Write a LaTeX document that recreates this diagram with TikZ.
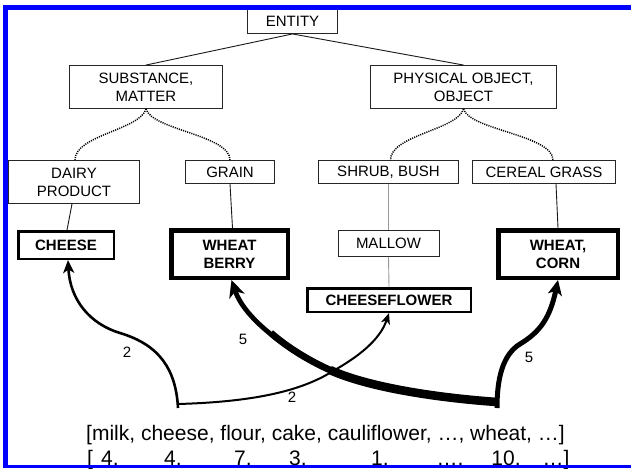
\documentclass[tikz,border=0pt]{standalone}
\usepackage{fontspec}
\setmainfont{Liberation Sans}
\usetikzlibrary{arrows.meta}
\begin{document}
\begin{tikzpicture}[x=1pt,y=-1pt,
  lbl/.style={font=\fontsize{15}{18}\selectfont, align=center, inner sep=0pt},
  thinbox/.style={lbl, draw=black!85, line width=0.9pt, fill=white},
  midbox/.style={lbl, draw=black, line width=2.5pt, fill=white, font=\fontsize{15}{18}\selectfont\bfseries},
  heavybox/.style={midbox, line width=4.5pt},
  tree/.style={line width=0.9pt, draw=black!90},
  grayline/.style={line width=0.9pt, draw=black!40},
  dots/.style={line width=1.5pt, dash pattern=on 1.1pt off 1.1pt},
  num/.style={font=\fontsize{15}{15}\selectfont, inner sep=0pt},
  words/.style={font=\fontsize{21}{21}\selectfont, inner sep=0pt, anchor=base},
  frame/.style={fill={rgb,255:red,0;green,0;blue,255}, draw=none}
]
\useasboundingbox (0,0) rectangle (631,468);
\fill[white] (0,0) rectangle (631,468);

% tree nodes
\node[thinbox, minimum width=90pt, minimum height=25pt] (entity) at (292.5,21) {ENTITY};
\node[thinbox, minimum width=153pt, minimum height=43pt] (subst) at (146,87) {SUBSTANCE,\\MATTER};
\node[thinbox, minimum width=186pt, minimum height=43pt] (phys) at (463.5,87) {PHYSICAL OBJECT,\\OBJECT};
\node[thinbox, minimum width=131pt, minimum height=43pt] (dairy) at (74,182) {DAIRY\\PRODUCT};
\node[thinbox, minimum width=89pt, minimum height=23pt] (grain) at (230,172) {GRAIN};
\node[thinbox, minimum width=140pt, minimum height=23pt] (shrub) at (388.5,172) {SHRUB, BUSH};
\node[thinbox, minimum width=143pt, minimum height=23pt] (cereal) at (544,172) {CEREAL GRASS};
\node[thinbox, minimum width=101pt, minimum height=26pt] (mallow) at (388.5,243.5) {MALLOW};
\node[midbox, minimum width=95.5pt, minimum height=27.5pt] (cheese) at (66,245) {CHEESE};
\node[heavybox, minimum width=116.5pt, minimum height=47.5pt] (wb) at (229.5,254) {WHEAT\\BERRY};
\node[heavybox, minimum width=119.5pt, minimum height=47.5pt] (wc) at (558,254) {WHEAT,\\CORN};
\node[midbox, minimum width=163.5pt, minimum height=23.5pt] (cf) at (389,300) {CHEESEFLOWER};

% tree edges
\draw[tree] (entity.south) -- (subst.north);
\draw[tree] (entity.south) -- (phys.north);
\draw[dots] (subst.south) .. controls +(-6,21) and +(0,-25) .. ([xshift=1pt]dairy.north);
\draw[dots] (subst.south) .. controls +(6,21) and +(0,-25) .. (grain.north);
\draw[dots] (phys.south) .. controls +(-6,21) and +(0,-25) .. ([xshift=2pt]shrub.north);
\draw[dots] (phys.south) .. controls +(6,21) and +(0,-25) .. ([xshift=9pt]cereal.north);
\draw[tree] ([xshift=-2pt]dairy.south) -- ([xshift=1pt]cheese.north);
\draw[tree] (grain.south) -- ([xshift=3pt]wb.north);
\draw[tree] ([xshift=12pt]cereal.south) -- (wc.north);
\draw[grayline] (shrub.south) -- (mallow.north);
\draw[grayline] (mallow.south) -- (cf.north);

% junctions
\coordinate (L) at (178,404);
\coordinate (Lb) at (178,408);
\coordinate (R) at (497,402);
\coordinate (Rb) at (497,408);
\coordinate (X) at (333,371);
\coordinate (Y) at (330,370);
\coordinate (Yh) at (270.8,332.9);
\coordinate (Q) at (520,344);

% weighted arrows
\draw[line width=2.6pt, -{Stealth[length=13pt,width=11pt,inset=3.5pt]}]
  (Lb) .. controls (176,370) and (160,345) .. (120,333)
       .. controls (90,324) and (70,300) .. ([xshift=2pt]cheese.south);
\draw[line width=2pt, -{Stealth[length=11pt,width=9pt,inset=3pt]}]
  (L) .. controls (250,402) and (300,392) .. (X)
      .. controls (358,357) and (380,340) .. (cf.south);
% tapered heavy arrow to WHEAT BERRY
\draw[line width=4.8pt, -{Stealth[length=17pt,width=16pt,inset=5pt]}]
  (R) .. controls (440,398) and (370,388) .. (Y)
      .. controls (290,352) and (245,320) .. ([xshift=2pt]wb.south);
\draw[line width=6.8pt]
  (R) .. controls (440,398) and (370,388) .. (Y)
      .. controls (310,361) and (288.75,348.5) .. (Yh);
\draw[line width=8.6pt]
  (R) .. controls (440,398) and (370,388) .. (Y);
\draw[line width=5pt, -{Stealth[length=15pt,width=14pt,inset=4pt]}]
  (Rb) .. controls (497,380) and (502,355) .. (Q)
       .. controls (540,332) and (550,318) .. (wc.south);

% weights
\node[num] (w1) at (127,352) {2};
\node[num] (w2) at (292,397) {2};
\node[num] (w3) at (243,339) {5};
\node[num] (w4) at (529,357) {5};

% word list
\node[words] (row1) at (325.5,440) {[milk, cheese, flour, cake, cauliflower, \dots, wheat, \dots]};
\node[words] (b0) at (90,465) {[};
\node[words] (c1) at (110,465) {4,};
\node[words] (c2) at (173,465) {4,};
\node[words] (c3) at (243,465) {7,};
\node[words] (c4) at (298,465) {3,};
\node[words] (c5) at (380,465) {1,};
\node[words] (c6) at (450,465) {\dots,};
\node[words] (c7) at (506,465) {10,};
\node[words] (c8) at (556,465) {\dots]};

% blue frame
\fill[frame] (3,5) rectangle (631,10);
\fill[frame] (3,5) rectangle (8,468);
\fill[frame] (3,465) rectangle (631,468);
\end{tikzpicture}
\end{document}
